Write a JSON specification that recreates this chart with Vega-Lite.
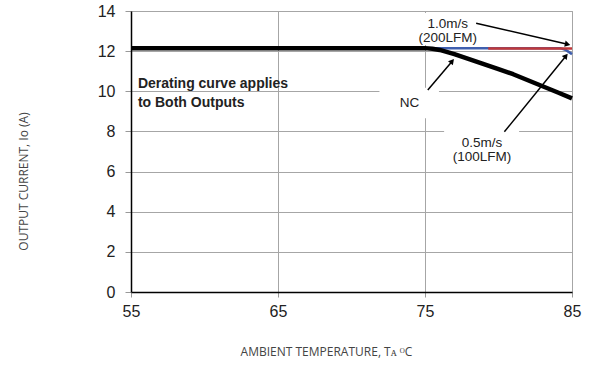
{
  "$schema": "https://vega.github.io/schema/vega-lite/v6.json",
  "width": 441,
  "height": 281,
  "autosize": {"type": "none"},
  "padding": {"left": 131, "top": 11, "right": 19, "bottom": 77},
  "background": "white",
  "config": {
    "view": {"stroke": "#9a9a9a", "strokeWidth": 1},
    "font": "Liberation Sans"
  },
  "datasets": {
    "curves": [
      {"series": "NC", "t": 55, "io": 12.15},
      {"series": "NC", "t": 75, "io": 12.15},
      {"series": "NC", "t": 75.5, "io": 12.12},
      {"series": "NC", "t": 76, "io": 12.06},
      {"series": "NC", "t": 77, "io": 11.85},
      {"series": "NC", "t": 78, "io": 11.6},
      {"series": "NC", "t": 79, "io": 11.35},
      {"series": "NC", "t": 80, "io": 11.1},
      {"series": "NC", "t": 81, "io": 10.85},
      {"series": "NC", "t": 82, "io": 10.55},
      {"series": "NC", "t": 83, "io": 10.25},
      {"series": "NC", "t": 84, "io": 9.95},
      {"series": "NC", "t": 85, "io": 9.65},
      {"series": "0.5m/s", "t": 55, "io": 12.15},
      {"series": "0.5m/s", "t": 84.2, "io": 12.15},
      {"series": "0.5m/s", "t": 84.6, "io": 12.05},
      {"series": "0.5m/s", "t": 85, "io": 11.85},
      {"series": "1.0m/s", "t": 79.3, "io": 12.13},
      {"series": "1.0m/s", "t": 85, "io": 12.13}
    ],
    "boxes": [
      {"box": "NC", "t1": 71.9, "t2": 75.95, "i1": 8.66, "i2": 10.18},
      {"box": "0.5", "t1": 76.3, "t2": 81.4, "i1": 6.3, "i2": 8.3},
      {"box": "1.0", "t1": 74.2, "t2": 78.8, "i1": 12.3, "i2": 13.9}
    ],
    "arrows": [
      {"id": "a1", "t1": 78.48, "i1": 13.39, "t2": 84.7, "i2": 12.34},
      {"id": "a2", "t1": 75.19, "i1": 10.06, "t2": 76.85, "i2": 11.5},
      {"id": "a3", "t1": 80.4, "i1": 7.98, "t2": 84.59, "i2": 11.76}
    ],
    "notes": [
      {"t": 55.47, "io": 10.15, "label": "Derating curve applies"},
      {"t": 55.47, "io": 9.23, "label": "to Both Outputs"}
    ],
    "labels": [
      {"t": 73.95, "io": 9.22, "label": "NC"},
      {"t": 76.55, "io": 13.15, "label": "1.0m/s"},
      {"t": 76.55, "io": 12.45, "label": "(200LFM)"},
      {"t": 78.87, "io": 7.23, "label": "0.5m/s"},
      {"t": 78.87, "io": 6.52, "label": "(100LFM)"}
    ]
  },
  "layer": [
    {
      "data": {"name": "boxes"},
      "mark": {"type": "rect", "fill": "white", "stroke": null},
      "encoding": {
        "x": {
          "field": "t1", "type": "quantitative",
          "scale": {"domain": [55, 85], "nice": false, "zero": false},
          "axis": {
            "values": [55, 65, 75, 85],
            "labelFlush": false,
            "labelFont": "Liberation Sans", "labelFontSize": 16, "labelColor": "#222",
            "labelPadding": 6,
            "domainColor": "black", "domainWidth": 1.5,
            "tickColor": "#999", "tickSize": 5,
            "gridColor": "#a6a6a6", "gridWidth": 1,
            "title": "AMBIENT TEMPERATURE, Tᴀ ᴼC",
            "titleFont": "Open Sans", "titleFontSize": 12, "titleFontWeight": "normal",
            "titleColor": "#444", "titleX": 195, "titleY": 59,
            "titleAlign": "center", "titleBaseline": "middle"
          }
        },
        "x2": {"field": "t2"},
        "y": {
          "field": "i1", "type": "quantitative",
          "scale": {"domain": [0, 14], "nice": false, "zero": false},
          "axis": {
            "values": [0, 2, 4, 6, 8, 10, 12, 14],
            "labelFlush": false,
            "labelFont": "Liberation Sans", "labelFontSize": 16, "labelColor": "#222",
            "labelPadding": 10,
            "domainColor": "black", "domainWidth": 1.5,
            "tickColor": "#999", "tickSize": 6,
            "gridColor": "#a6a6a6", "gridWidth": 1,
            "title": "OUTPUT CURRENT, Io  (A)",
            "titleFont": "Open Sans", "titleFontSize": 12, "titleFontWeight": "normal",
            "titleColor": "#444", "titleX": -108, "titleY": 170, "titleAngle": -90,
            "titleAlign": "center", "titleBaseline": "middle"
          }
        },
        "y2": {"field": "i2"}
      }
    },
    {
      "data": {"name": "curves"},
      "transform": [{"filter": "datum.series === '0.5m/s'"}],
      "mark": {"type": "line", "color": "#3f5fae", "strokeWidth": 2.5},
      "encoding": {
        "x": {"field": "t", "type": "quantitative"},
        "y": {"field": "io", "type": "quantitative"}
      }
    },
    {
      "data": {"name": "curves"},
      "transform": [{"filter": "datum.series === '1.0m/s'"}],
      "mark": {"type": "line", "color": "#c0383a", "strokeWidth": 2.5},
      "encoding": {
        "x": {"field": "t", "type": "quantitative"},
        "y": {"field": "io", "type": "quantitative"}
      }
    },
    {
      "data": {"name": "curves"},
      "transform": [{"filter": "datum.series === 'NC'"}],
      "mark": {"type": "line", "color": "black", "strokeWidth": 4.5, "strokeJoin": "round"},
      "encoding": {
        "x": {"field": "t", "type": "quantitative"},
        "y": {"field": "io", "type": "quantitative"}
      }
    },
    {
      "data": {"name": "arrows"},
      "mark": {"type": "rule", "color": "black", "strokeWidth": 1.5},
      "encoding": {
        "x": {"field": "t1", "type": "quantitative"},
        "y": {"field": "i1", "type": "quantitative"},
        "x2": {"field": "t2"},
        "y2": {"field": "i2"}
      }
    },
    {
      "data": {"name": "arrows"},
      "transform": [{"filter": "datum.id === 'a1'"}],
      "mark": {"type": "point", "shape": "triangle-up", "filled": true, "color": "black", "opacity": 1, "size": 40, "angle": 103},
      "encoding": {
        "x": {"field": "t2", "type": "quantitative"},
        "y": {"field": "i2", "type": "quantitative"}
      }
    },
    {
      "data": {"name": "arrows"},
      "transform": [{"filter": "datum.id === 'a2'"}],
      "mark": {"type": "point", "shape": "triangle-up", "filled": true, "color": "black", "opacity": 1, "size": 40, "angle": 40},
      "encoding": {
        "x": {"field": "t2", "type": "quantitative"},
        "y": {"field": "i2", "type": "quantitative"}
      }
    },
    {
      "data": {"name": "arrows"},
      "transform": [{"filter": "datum.id === 'a3'"}],
      "mark": {"type": "point", "shape": "triangle-up", "filled": true, "color": "black", "opacity": 1, "size": 40, "angle": 39},
      "encoding": {
        "x": {"field": "t2", "type": "quantitative"},
        "y": {"field": "i2", "type": "quantitative"}
      }
    },
    {
      "data": {"name": "notes"},
      "mark": {"type": "text", "font": "Liberation Sans", "fontWeight": "bold", "fontSize": 14, "color": "#222", "align": "left", "baseline": "alphabetic"},
      "encoding": {
        "x": {"field": "t", "type": "quantitative"},
        "y": {"field": "io", "type": "quantitative"},
        "text": {"field": "label", "type": "nominal"}
      }
    },
    {
      "data": {"name": "labels"},
      "mark": {"type": "text", "font": "Liberation Sans", "fontSize": 13.5, "color": "#222", "align": "center", "baseline": "alphabetic"},
      "encoding": {
        "x": {"field": "t", "type": "quantitative"},
        "y": {"field": "io", "type": "quantitative"},
        "text": {"field": "label", "type": "nominal"}
      }
    }
  ]
}
